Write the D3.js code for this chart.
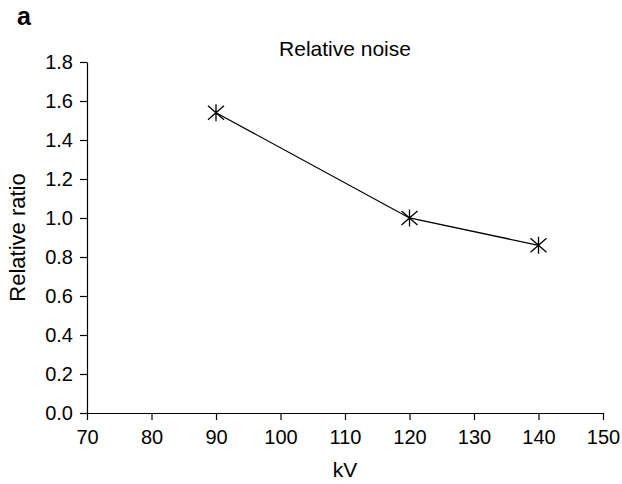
<!DOCTYPE html>
<html lang="en">
<head>
    <meta charset="UTF-8">
    <title>Relative noise</title>
    <script src="https://cdn.jsdelivr.net/npm/d3@7"></script>
    <style>
        body { margin: 0; background: #fff; }
        svg text { font-family: "Liberation Sans", Arial, sans-serif; fill: #000; }
        .axis path, .axis line { stroke: #000; stroke-width: 1.2; }
        .axis text { font-size: 20px; }
    </style>
</head>
<body>
    <div id="chart"></div>
    <script>
        // data
        const kv = [90, 120, 140];
        const noise = [1.54, 1.00, 0.86];
        const xTicks = [70, 80, 90, 100, 110, 120, 130, 140, 150];
        const yTicks = [0, 0.2, 0.4, 0.6, 0.8, 1.0, 1.2, 1.4, 1.6, 1.8];

        const width = 622, height = 484;
        const margin = { left: 87, right: 19, top: 62, bottom: 71 };

        const svg = d3.select('#chart').append('svg')
            .attr('width', width)
            .attr('height', height);

        const x = d3.scaleLinear().domain([70, 150])
            .range([margin.left, width - margin.right]);
        const y = d3.scaleLinear().domain([0, 1.8])
            .range([height - margin.bottom, margin.top]);

        svg.append('g')
            .attr('class', 'axis')
            .attr('transform', `translate(0,${height - margin.bottom})`)
            .call(d3.axisBottom(x).tickValues(xTicks).tickSize(7).tickPadding(10).tickSizeOuter(0));

        svg.append('g')
            .attr('class', 'axis')
            .attr('transform', `translate(${margin.left},0)`)
            .call(d3.axisLeft(y).tickValues(yTicks).tickFormat(d3.format('.1f')).tickSize(7).tickPadding(7).tickSizeOuter(0));

        // line
        const pts = kv.map((k, i) => ({ k, v: noise[i] }));
        svg.append('path')
            .datum(pts)
            .attr('fill', 'none')
            .attr('stroke', '#000')
            .attr('stroke-width', 1.3)
            .attr('d', d3.line().x(d => x(d.k)).y(d => y(d.v)));

        // asterisk markers
        const star = 'M0,-8.5L0,8.5M-8,-7L8,7M-8,7L8,-7';
        svg.selectAll('.mark')
            .data(pts)
            .enter()
            .append('path')
            .attr('class', 'mark')
            .attr('transform', d => `translate(${x(d.k)},${y(d.v)})`)
            .attr('d', star)
            .attr('stroke', '#000')
            .attr('stroke-width', 1.3)
            .attr('fill', 'none');

        const midX = (margin.left + width - margin.right) / 2;

        // titles
        svg.append('text')
            .attr('x', midX).attr('y', 56)
            .attr('text-anchor', 'middle')
            .style('font-size', '21px')
            .text('Relative noise');

        svg.append('text')
            .attr('x', 17).attr('y', 25)
            .style('font-size', '25px')
            .style('font-weight', 'bold')
            .text('a');

        svg.append('text')
            .attr('transform', `translate(25,${(margin.top + height - margin.bottom) / 2}) rotate(-90)`)
            .attr('text-anchor', 'middle')
            .style('font-size', '22px')
            .text('Relative ratio');

        svg.append('text')
            .attr('x', midX)
            .attr('y', 477)
            .attr('text-anchor', 'middle')
            .style('font-size', '21px')
            .text('kV');
    </script>
</body>
</html>
